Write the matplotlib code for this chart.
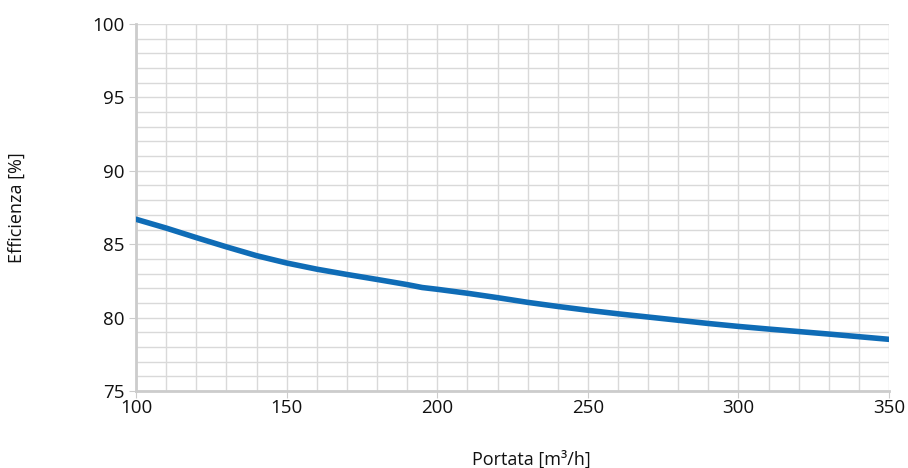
import matplotlib
matplotlib.use("Agg")
import matplotlib.pyplot as plt
from matplotlib.ticker import MultipleLocator

portata = [100, 110, 120, 130, 140, 150, 160, 170, 180, 190, 195, 200, 210, 220,
           230, 240, 250, 260, 270, 280, 290, 300, 310, 320, 330, 340, 350]
efficienza = [86.7, 86.1, 85.45, 84.82, 84.22, 83.72, 83.3, 82.94, 82.6, 82.25, 82.05,
              81.93, 81.66, 81.36, 81.04, 80.76, 80.5, 80.26, 80.04, 79.82, 79.6,
              79.4, 79.22, 79.05, 78.88, 78.7, 78.52]

plt.rcParams['font.family'] = ['Open Sans', 'DejaVu Sans']

fig = plt.figure(figsize=(9.08, 4.68), dpi=100)
ax = fig.add_axes([0.1498, 0.1645, 0.8294, 0.7842])

ax.plot(portata, efficienza, color='#0f6cb6', lw=4.0, solid_capstyle='round',
        solid_joinstyle='round', zorder=3)

ax.set_xlim(100, 350)
ax.set_ylim(75, 100)
ax.xaxis.set_major_locator(MultipleLocator(50))
ax.xaxis.set_minor_locator(MultipleLocator(10))
ax.yaxis.set_major_locator(MultipleLocator(5))
ax.yaxis.set_minor_locator(MultipleLocator(1))
ax.grid(which='both', color='#d9d9d9', lw=1.0, zorder=0)
ax.set_axisbelow(True)

for s in ['top', 'right']:
    ax.spines[s].set_visible(False)
ax.spines['left'].set_color('#cccccc')
ax.spines['left'].set_linewidth(2)
ax.spines['bottom'].set_color('#cccccc')
ax.spines['bottom'].set_linewidth(2)

ax.tick_params(axis='both', which='major', length=5, color='#cccccc', labelsize=13.5, labelcolor='#111111')
ax.tick_params(axis='y', which='major', pad=3)
ax.tick_params(axis='x', which='major', pad=1)
ax.tick_params(which='minor', length=0)
for lab in ax.get_xticklabels() + ax.get_yticklabels():
    lab.set_fontweight('medium')

ax.set_xlabel('Portata [m³/h]', fontsize=13, color='#111111')
ax.xaxis.set_label_coords(0.5246, -0.162)
ax.set_ylabel('Efficienza [%]', fontsize=13, color='#111111', labelpad=48)

fig.savefig('out.png', dpi=100)
